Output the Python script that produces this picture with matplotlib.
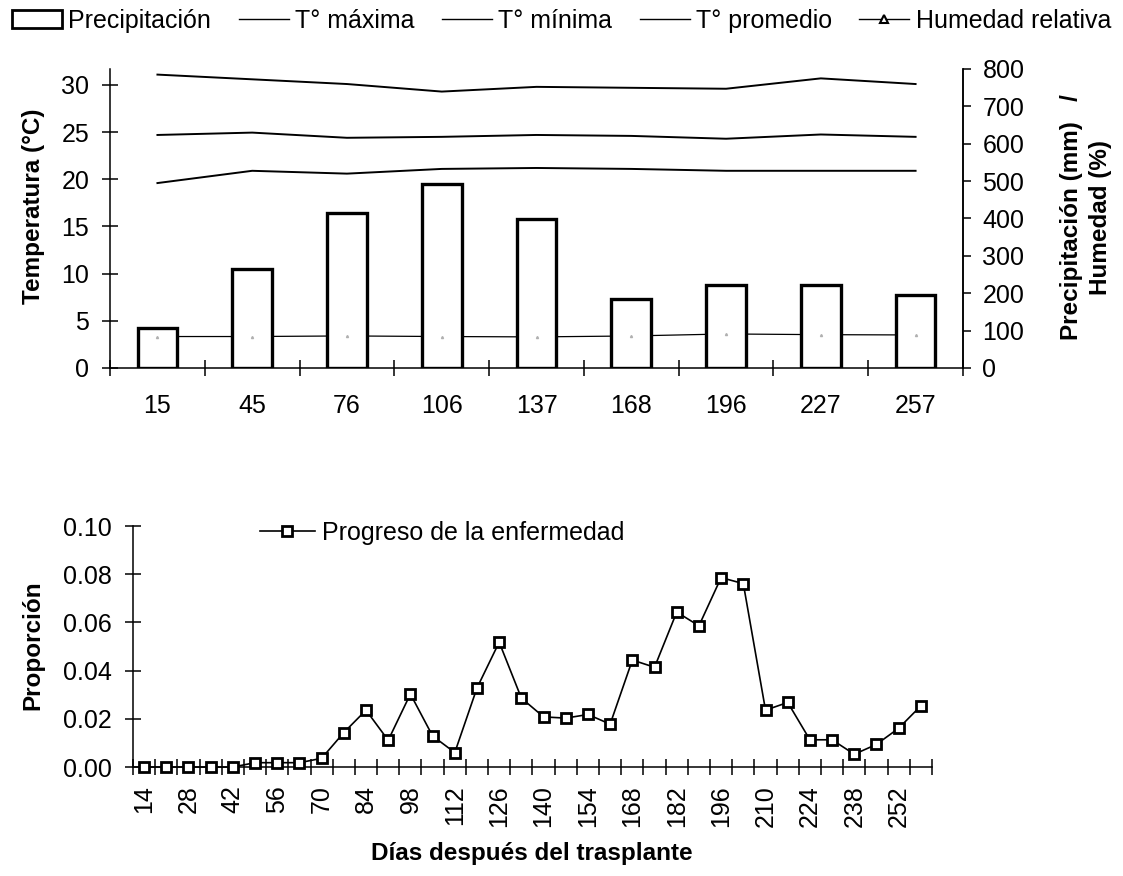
import matplotlib
matplotlib.use("Agg")
import matplotlib.pyplot as plt
from matplotlib.patches import Patch
from matplotlib.lines import Line2D
import numpy as np

plt.rcParams['font.family'] = ['Liberation Sans', 'DejaVu Sans']

# ---------------- data ----------------
dias_clima = ["15", "45", "76", "106", "137", "168", "196", "227", "257"]
precipitacion = [106, 264, 415, 491, 399, 185, 221, 221, 194]
t_maxima = [31.1, 30.6, 30.1, 29.3, 29.8, 29.7, 29.6, 30.7, 30.1]
t_minima = [19.6, 20.9, 20.6, 21.1, 21.2, 21.1, 20.9, 20.9, 20.9]
t_promedio = [24.7, 24.95, 24.4, 24.5, 24.7, 24.6, 24.3, 24.75, 24.5]
humedad = [84, 84, 85.6, 84, 83, 85.5, 90.9, 89, 88.2]

dias_enf = list(range(14, 260, 7))
progreso = [0.0, 0.0, 0.0, 0.0, 0.0, 0.0018, 0.0018, 0.0018, 0.0036, 0.0143,
            0.0236, 0.0111, 0.0303, 0.0129, 0.0060, 0.0328, 0.0518, 0.0286,
            0.0208, 0.0203, 0.0218, 0.0178, 0.0444, 0.0414, 0.0643, 0.0586,
            0.0786, 0.0761, 0.0236, 0.0268, 0.0113, 0.0113, 0.0053, 0.0094,
            0.0161, 0.0254]

FS = 18
FSL = 17.5
LW = 1.1

fig = plt.figure(figsize=(11.23, 8.76), dpi=100)

# ---------------- upper chart ----------------
ax = fig.add_axes([0.098, 0.580, 0.7595, 0.3413])
ax2 = ax.twinx()
x = np.arange(len(dias_clima))

ax2.plot(x, humedad, color='black', lw=0.9, zorder=1)
ax2.bar(x, precipitacion, width=0.42, facecolor='white', edgecolor='black',
        linewidth=2.4, zorder=2)
ax2.plot(x, humedad, linestyle='none', marker='^', markersize=1.5,
         color='#b0b0b0', zorder=3)

ax.plot(x, t_maxima, color='black', lw=1.4)
ax.plot(x, t_minima, color='black', lw=1.4)
ax.plot(x, t_promedio, color='black', lw=1.4)

ax.set_xlim(-0.5, len(x) - 0.5)
ax.set_ylim(0, 31.7)
ax2.set_ylim(0, 800)
ax.set_yticks(np.arange(0, 31, 5))
ax2.set_yticks(np.arange(0, 801, 100))

ax.set_xticks(np.arange(-0.5, len(x), 1.0))
ax.set_xticklabels([])
ax.set_xticks(x, minor=True)
ax.set_xticklabels(dias_clima, minor=True, fontsize=FS)
ax.tick_params(axis='x', which='major', direction='inout', length=12, width=LW)
ax.tick_params(axis='x', which='minor', length=0, pad=19)
ax.tick_params(axis='y', direction='inout', length=12, width=LW, labelsize=FS, pad=9)
ax2.tick_params(axis='y', direction='out', length=6, width=LW, labelsize=FS, pad=8)

for a in (ax, ax2):
    a.spines['top'].set_visible(False)
    for s in a.spines.values():
        s.set_linewidth(LW)
ax2.spines['left'].set_visible(False)
ax2.spines['bottom'].set_visible(False)

fig.text(0.0294, 0.765, "Temperatura (°C)", rotation=90, ha='center',
         va='center', fontsize=FSL, fontweight='bold')
fig.text(0.967, 0.752, "Precipitación (mm)   /\nHumedad (%)", rotation=90,
         ha='center', va='center', fontsize=FSL, fontweight='bold',
         multialignment='center', linespacing=1.3)

handles = [
    Patch(facecolor='white', edgecolor='black', linewidth=2.0),
    Line2D([], [], color='black', lw=1.0),
    Line2D([], [], color='black', lw=1.0),
    Line2D([], [], color='black', lw=1.0),
    Line2D([], [], color='black', lw=1.0, marker='^', markersize=6,
           markerfacecolor='white', markeredgecolor='black', markeredgewidth=1.5),
]
labels = ["Precipitación", "T° máxima", "T° mínima", "T° promedio", "Humedad relativa"]
fig.legend(handles, labels, loc='upper center', bbox_to_anchor=(0.5, 1.004),
           ncol=5, frameon=False, fontsize=FS, handlelength=2.0,
           handletextpad=0.25, columnspacing=1.1, borderaxespad=0.3,
           borderpad=0.2)

# ---------------- lower chart ----------------
ax3 = fig.add_axes([0.1184, 0.1244, 0.7115, 0.2751])
xe = np.arange(len(dias_enf))
ax3.plot(xe, progreso, color='black', lw=1.2, marker='s', markersize=7.5,
         markerfacecolor='white', markeredgecolor='black', markeredgewidth=2.0,
         label="Progreso de la enfermedad", clip_on=False, zorder=3)
ax3.set_xlim(-0.5, len(xe) - 0.5)
ax3.set_ylim(0, 0.10)
ax3.set_yticks(np.arange(0, 0.101, 0.02))
ax3.set_yticklabels([f"{v:.2f}" for v in np.arange(0, 0.101, 0.02)])

ax3.set_xticks(np.arange(-0.5, len(xe), 1.0))
ax3.set_xticklabels([])
ax3.set_xticks(xe[::2], minor=True)
ax3.set_xticklabels([str(d) for d in dias_enf[::2]], minor=True,
                    rotation=90, fontsize=FS)
ax3.tick_params(axis='x', which='major', direction='inout', length=11, width=LW)
ax3.tick_params(axis='x', which='minor', length=0, pad=13)
ax3.tick_params(axis='y', direction='inout', length=12, width=LW, labelsize=FS, pad=9)
ax3.spines['top'].set_visible(False)
ax3.spines['right'].set_visible(False)
for s in ax3.spines.values():
    s.set_linewidth(LW)

fig.text(0.0294, 0.2637, "Proporción", rotation=90, ha='center', va='center',
         fontsize=FSL, fontweight='bold')
fig.text(0.474, 0.026, "Días después del trasplante", ha='center', va='center',
         fontsize=FSL, fontweight='bold')
ax3.legend(loc='center left', bbox_to_anchor=(0.146, 0.971), frameon=False,
           fontsize=FS, handlelength=2.2, handletextpad=0.3, borderaxespad=0)

fig.savefig("out.png", dpi=100)
